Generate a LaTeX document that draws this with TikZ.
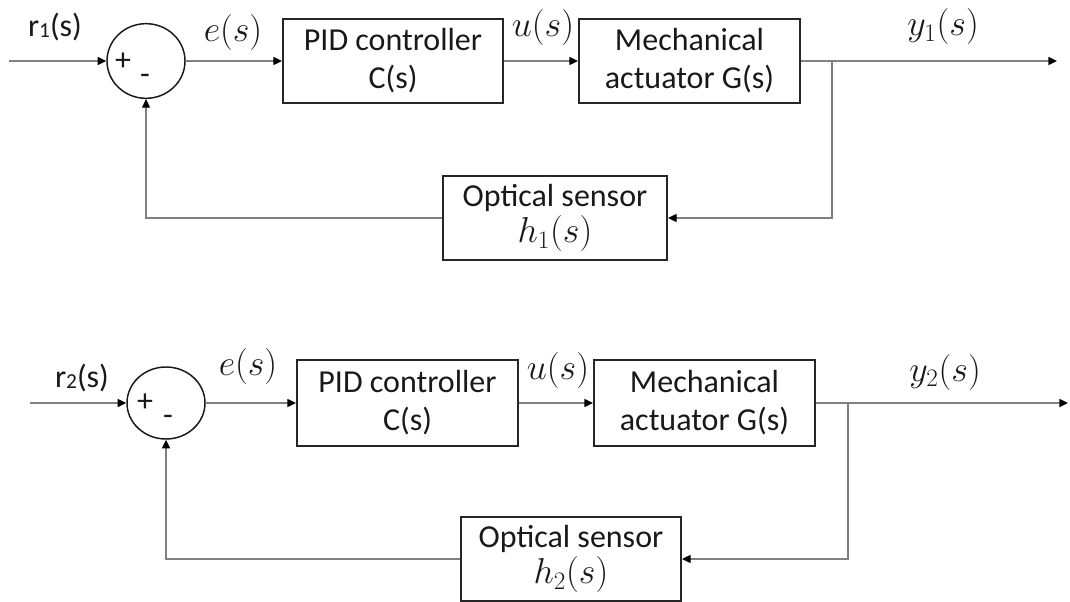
\documentclass[tikz,border=0pt]{standalone}
\usepackage{fix-cm}
\usepackage{fontspec}
\setmainfont{Carlito}
\usetikzlibrary{arrows.meta,shapes.geometric}
\newcommand{\bigmath}[1]{{\fontsize{27}{30}\selectfont$#1$}}
\begin{document}
\begin{tikzpicture}[x=0.75pt,y=-0.75pt,
  every node/.style={font=\fontsize{24}{28.5}\selectfont, text=black!90},
  blk/.style={draw=black!85, line width=1.5pt, minimum height=63pt, inner sep=0pt, align=center},
  sumj/.style={draw=black!90, line width=1.1pt, ellipse, inner sep=0pt},
  conn/.style={draw=black!50, line width=1pt, -{Triangle[length=6.5pt,width=6pt,color=black]}},
  lbl/.style={inner sep=0pt},
]
\useasboundingbox (0,0) rectangle (1070,602);

% ---------- top loop ----------
\node[sumj, minimum width=58.5pt, minimum height=56pt] (s1) at (146,61) {};
\node[blk, minimum width=165pt] (c1) at (393,61) {PID controller\\C(s)};
\node[blk, minimum width=165.75pt] (g1) at (689.5,61) {Mechanical\\actuator G(s)};
\node[blk, minimum width=168pt] (h1) at (555,218) {Optical sensor\\[-1pt]\bigmath{h_1(s)}};
\coordinate (in1) at (9,61);
\coordinate (out1) at (1057,61);
\coordinate (br1) at (832,61);

\node[lbl] (r1) at (55,27) {r\raisebox{-1pt}{\fontsize{16}{16}\selectfont 1}(s)};
\node[lbl] (e1) at (233,33) {\bigmath{e(s)}};
\node[lbl] (u1) at (543,28) {\bigmath{u(s)}};
\node[lbl] (y1) at (943,27) {\bigmath{y_1(s)}};
\node[lbl] (p1) at (123,62) {+};
\node[lbl] (m1) at (145,79) {-};

\draw[conn] (in1) -- (s1.west);
\draw[conn] (s1.east) -- (c1.west);
\draw[conn] (c1.east) -- (g1.west);
\draw[conn] (g1.east) -- (out1);
\draw[conn] (br1) |- (h1.east);
\draw[conn] (h1.west) -| (s1.south);

% ---------- bottom loop ----------
\node[sumj, minimum width=58.5pt, minimum height=54pt] (s2) at (166,403) {};
\node[blk, minimum width=165.75pt, minimum height=64.5pt] (c2) at (407.5,403) {PID controller\\C(s)};
\node[blk, minimum width=165.75pt, minimum height=64.5pt] (g2) at (704.5,403) {Mechanical\\actuator G(s)};
\node[blk, minimum width=165pt] (h2) at (571,559) {Optical sensor\\[-1pt]\bigmath{h_2(s)}};
\coordinate (in2) at (30,403);
\coordinate (out2) at (1068,403);
\coordinate (br2) at (848,403);

\node[lbl] (r2) at (82,378) {r\raisebox{-1pt}{\fontsize{16}{16}\selectfont 2}(s)};
\node[lbl] (e2) at (248,366) {\bigmath{e(s)}};
\node[lbl] (u2) at (558,370) {\bigmath{u(s)}};
\node[lbl] (y2) at (945,372) {\bigmath{y_2(s)}};
\node[lbl] (p2) at (145,403) {+};
\node[lbl] (m2) at (168,420) {-};

\draw[conn] (in2) -- (s2.west);
\draw[conn] (s2.east) -- (c2.west);
\draw[conn] (c2.east) -- (g2.west);
\draw[conn] (g2.east) -- (out2);
\draw[conn] (br2) |- (h2.east);
\draw[conn] (h2.west) -| (s2.south);
\end{tikzpicture}
\end{document}
